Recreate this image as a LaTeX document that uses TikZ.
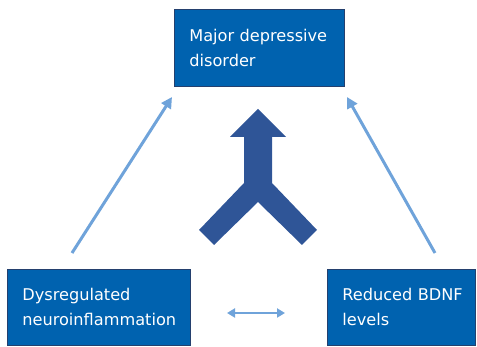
\documentclass[tikz,border=0pt]{standalone}
\usepackage{fontspec}
\setmainfont{DejaVu Sans}
\usetikzlibrary{arrows.meta}
\definecolor{boxblue}{HTML}{0062AF}
\definecolor{boxline}{HTML}{24406E}
\definecolor{bigblue}{HTML}{2F5597}
\definecolor{thinblue}{HTML}{6FA3DA}
\tikzset{
  box/.style={draw=boxline, line width=0.4pt, fill=boxblue, text=white, align=left,
    inner xsep=0.3cm, inner ysep=0pt, anchor=north west,
    font={\fontsize{9.2}{14.2}\selectfont\hyphenpenalty=10000}},
  link/.style={draw=thinblue, line width=0.06cm, -{Triangle[length=0.22cm,width=0.22cm]}},
  both/.style={draw=thinblue, line width=0.05cm, {Triangle[length=0.16cm,width=0.18cm]}-{Triangle[length=0.16cm,width=0.18cm]}}
}
\begin{document}
\begin{tikzpicture}[x=0.02cm,y=-0.02cm]
        \useasboundingbox (0,0) rectangle (477,347);

        \node[box, text width=2.8cm, minimum width=3.4cm, minimum height=1.54cm] (mdd) at (174,9) {Major depressive\\disorder};
        \node[box, text width=3.06cm, minimum width=3.66cm, minimum height=1.52cm] (dys) at (7,269) {Dysregulated\\neuroinflammation};
        \node[box, text width=2.36cm, minimum width=2.96cm, minimum height=1.52cm] (bdnf) at (327,269) {Reduced~BDNF\\levels};

        % big merging arrow
        \fill[bigblue] (258,109) -- (286,137) -- (272,137) -- (272,183) -- (317,230)
          -- (302,245) -- (258,202) -- (214,245) -- (199,230) -- (244,183)
          -- (244,137) -- (230,137) -- cycle;

        \coordinate (l1) at (72,253);
        \coordinate (l2) at (172,97);
        \coordinate (r1) at (435,253);
        \coordinate (r2) at (347,97);
        \coordinate (m1) at (227,313);
        \coordinate (m2) at (285,313);

        \draw[link] (l1) to (l2);
        \draw[link] (r1) to (r2);
        \draw[both] (m1) to (m2);
\end{tikzpicture}
\end{document}
